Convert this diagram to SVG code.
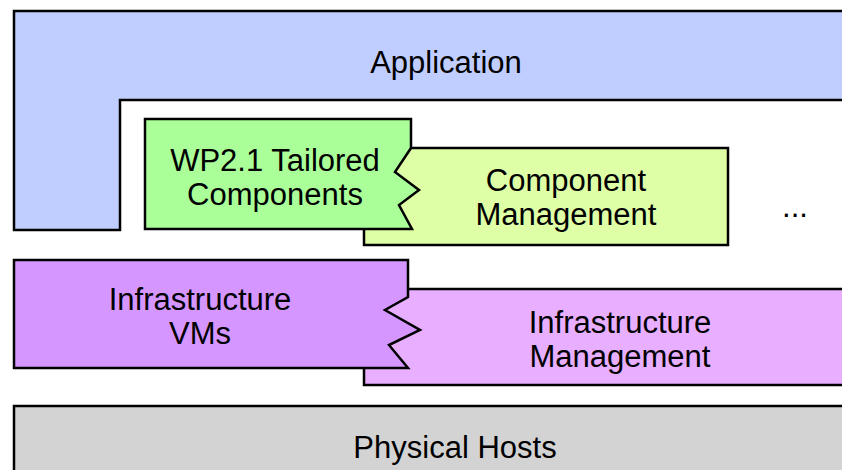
<svg xmlns="http://www.w3.org/2000/svg" width="842" height="470" viewBox="0 0 842 470">
<style>
.s{stroke:#000;stroke-width:2.5;stroke-linejoin:miter}
text{font-family:"Liberation Sans",Arial,sans-serif;font-size:31px;fill:#000;text-anchor:middle}
</style>
<rect width="842" height="470" fill="#fff"/>
<g id="application">
<path class="s" fill="#C0CEFF" d="M14,11 H850 V100 H120 V230 H14 Z"/>
<text x="446" y="73">Application</text>
</g>
<g id="component-management">
<rect class="s" fill="#DEFFA6" x="364" y="148" width="364" height="97"/>
<text x="566" y="191">Component</text>
<text x="566" y="225">Management</text>
</g>
<g id="tailored-components">
<path class="s" fill="#AAFF99" d="M145,119 H411 V148 L395,172 L419,190 L399,205 L412,229 H145 Z"/>
<text x="275" y="171">WP2.1 Tailored</text>
<text x="275" y="205">Components</text>
</g>
<g id="more">
<text x="795" y="217">...</text>
</g>
<g id="infrastructure-management">
<rect class="s" fill="#E8AEFF" x="364" y="289" width="490" height="96"/>
<text x="620" y="333">Infrastructure</text>
<text x="620" y="367">Management</text>
</g>
<g id="infrastructure-vms">
<path class="s" fill="#D597FF" d="M14,260 H408 V297 L385,310 L420,330 L389,345 L408,368 H14 Z"/>
<text x="200" y="310">Infrastructure</text>
<text x="200" y="344">VMs</text>
</g>
<g id="physical-hosts">
<rect class="s" fill="#D3D3D3" x="14" y="406" width="840" height="80"/>
<text x="455" y="458">Physical Hosts</text>
</g>
<g id="connectors"/>
</svg>
